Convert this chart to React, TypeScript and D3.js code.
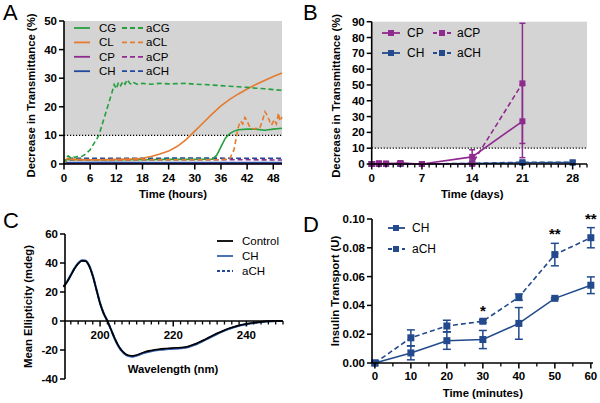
import React from "react";
import * as d3 from "d3";

// ---------- Panel A data: [time (h), decrease (%)] ----------
const aCG: [number, number][] = [[0,0],[0.5,2.5],[1,2.8],[1.5,2.2],[2,2.7],[2.5,2.3],[3,2.6],[4,2.6],[5,3.5],[6,5],[7,7.5],[8,10],[9,15],[10,20],[11,25],[11.5,27.8],[12,26.3],[12.5,28.6],[13,27.4],[13.5,28.9],[14,27.9],[14.5,29.5],[15,28.4],[15.5,27.7],[16,28.4],[17,27.8],[18,28.2],[20,27.9],[22,28.2],[24,28.0],[26,28.1],[28,28.2],[30,27.9],[32,27.8],[34,27.6],[36,27.4],[38,27.2],[40,27.0],[42,26.8],[44,26.5],[46,26.3],[48,26.0],[50,25.8]];
const CL: [number, number][] = [[0,0],[0.5,1.6],[1,2.0],[2,1.6],[4,1.5],[8,1.5],[12,1.6],[16,1.8],[18,2.0],[20,2.6],[22,3.5],[24,4.5],[26,6.2],[28,8.5],[30,11.5],[32,14.5],[34,17.5],[36,20.3],[38,22.6],[40,24.5],[42,26.2],[44,27.8],[46,29.2],[48,30.6],[50,31.8]];
const CG: [number, number][] = [[0,0],[0.5,1.5],[1,1.6],[6,1.5],[12,1.5],[18,1.5],[24,1.6],[30,1.6],[34,1.7],[35,3],[36,6],[37,9],[38,10.6],[39,11.5],[40,12],[42,12.2],[44,12.2],[46,11.8],[48,12.2],[50,12.5]];
const aCL: [number, number][] = [[0,0],[0.5,1.4],[1,1.6],[6,1.5],[12,1.4],[18,1.5],[24,1.5],[30,1.5],[36,1.5],[38,1.8],[39,5],[39.6,10],[40,13],[40.5,15],[41,14],[41.5,16.3],[42,15],[42.7,12.6],[43.5,12.3],[44.9,12.6],[45.5,15],[46.1,18.3],[46.6,17],[47.1,15.2],[47.6,13.6],[48.2,15.5],[48.7,14],[49.2,17.8],[49.5,15],[50,16.5]];
const CP: [number, number][] = [[0,0],[0.5,0.3],[10,0.2],[20,0.3],[30,0.2],[40,0.2],[50,0.2]];
const aCP: [number, number][] = [[0,0],[0.5,1.4],[10,1.4],[20,1.5],[30,1.5],[40,1.5],[50,1.4]];
const CH: [number, number][] = [[0,0],[0.5,0.5],[10,0.6],[20,0.5],[30,0.5],[40,0.5],[50,0.5]];
const aCH: [number, number][] = [[0,0],[0.5,2.0],[10,2.0],[20,2.0],[30,2.1],[40,2.0],[50,2.0]];
const aXTicks = [0, 6, 12, 18, 24, 30, 36, 42, 48];
const aYTicks = [0, 10, 20, 30, 40, 50];

// ---------- Panel B data ----------
const bDaysP = [0, 1, 2, 4, 7, 14, 21];
const bCP = [0, 0.4, 0.2, 0.6, 0, 4.5, 27];
const bCPerr = [0, 0, 0, 0.4, 0, 4.5, 23];
const bACP = [0, 0.3, 0.2, 0.4, 0, 0.2, 51];
const bACPerr = [0, 0, 0, 0, 0, 0, 38];
const bDaysH = [0, 1, 2, 4, 7, 14, 21, 28];
const bCH = [0, 0, 0, 0, 0, 0.3, 0.8, 0.9];
const bACH = [0, 0, 0, 0, 0, 0.4, 1.1, 1.0];
const bXTicks = [0, 7, 14, 21, 28];
const bYTicks = [0, 10, 20, 30, 40, 50, 60, 70, 80, 90];

// ---------- Panel C data: wavelength (nm), ellipticity (mdeg) ----------
const cNm = [190,191,192,193,194,195,196,197,198,199,200,201,202,203,204,205,206,207,208,209,210,211,212,214,216,218,220,222,224,226,228,230,232,234,236,238,240,242,244,246,248,250];
const cControl = [23.5,27,31.5,36,39.5,41.5,41.3,38,31,21.5,12,5,0,-6,-12,-17,-20.5,-22.8,-23.8,-24,-23.5,-22.5,-21.5,-20.3,-19.5,-19,-18.6,-18.3,-17.6,-15.8,-13.5,-11,-8.5,-6.3,-4.5,-3,-2,-1.2,-0.6,-0.2,0,0];
const cCH = [23.8,27.3,31.8,36.3,39.8,41.8,41.6,38.3,31.3,21.8,12.3,5.2,0.1,-6,-12.2,-17.3,-20.9,-23.2,-24.3,-24.5,-24,-23,-22,-20.8,-20,-19.5,-19.1,-18.8,-18.1,-16.3,-14,-11.4,-8.9,-6.6,-4.8,-3.2,-2.2,-1.3,-0.7,-0.3,0,0];
const cACH = [23.6,27.2,31.7,36.2,39.7,41.7,41.5,38.2,31.2,21.7,12.2,5.1,0,-6.1,-12.1,-17.2,-20.8,-23.1,-24.2,-24.4,-23.8,-22.8,-21.8,-20.6,-19.8,-19.3,-18.9,-18.6,-17.9,-16.1,-13.8,-11.2,-8.7,-6.5,-4.7,-3.1,-2.1,-1.3,-0.7,-0.3,0,0];
const cXTicks = [200, 220, 240];
const cYTicks = [-40, -20, 0, 20, 40, 60];

// ---------- Panel D data ----------
const dMin = [0, 10, 20, 30, 40, 50, 60];
const dCH = [0, 0.007, 0.0155, 0.0163, 0.0275, 0.0449, 0.054];
const dCHerr = [0, 0.0048, 0.006, 0.0063, 0.011, 0.0005, 0.0058];
const dACH = [0, 0.0175, 0.0257, 0.029, 0.0457, 0.0753, 0.087];
const dACHerr = [0, 0.0055, 0.004, 0.001, 0.0022, 0.0078, 0.007];
const dStars = [[30, "*"], [50, "**"], [60, "**"]] as [number, string][];
const dXTicks = [0, 10, 20, 30, 40, 50, 60];
const dYTicks = [0, 0.02, 0.04, 0.06, 0.08, 0.1];

const GREEN = "#26a03f";
const ORANGE = "#e47b2e";
const PURPLE = "#8f2a8f";
const BLUE = "#23479a";
const NAVY = "#234a8c";
const GRAY = "#d4d4d4";
const FONT = "Liberation Sans, Arial, sans-serif";
const DASH = "5,3";

const tickStyle = { fontFamily: FONT, fontSize: 11.5, fontWeight: 700 as const, fill: "#000" };
const labelStyle = { fontFamily: FONT, fontSize: 11.3, fontWeight: 700 as const, fill: "#000" };
const legStyle = { fontFamily: FONT, fontSize: 11.5, fill: "#000" };

function YAxis({ x, y, ticks, fmt }: { x: number; y: d3.ScaleLinear<number, number>; ticks: number[]; fmt: (v: number) => string }) {
  const [r0, r1] = y.range();
  return (
    <g>
      <line x1={x} x2={x} y1={r0} y2={r1} stroke="#000" strokeWidth={1.6} />
      {ticks.map((t) => (
        <g key={t}>
          <line x1={x - 5} x2={x} y1={y(t)} y2={y(t)} stroke="#000" strokeWidth={1.5} />
          <text x={x - 7} y={y(t)} dy="0.35em" textAnchor="end" style={tickStyle}>{fmt(t)}</text>
        </g>
      ))}
    </g>
  );
}

function XAxis({ y0, x, ticks, minor, labelY, fmt }: { y0: number; x: d3.ScaleLinear<number, number>; ticks: number[]; minor?: number[]; labelY: number; fmt?: (v: number) => string }) {
  const [r0, r1] = x.range();
  return (
    <g>
      <line x1={r0} x2={r1} y1={y0} y2={y0} stroke="#000" strokeWidth={1.6} />
      {(minor || []).map((t) => (
        <line key={"m" + t} x1={x(t)} x2={x(t)} y1={y0} y2={y0 + 3.5} stroke="#000" strokeWidth={1.3} />
      ))}
      {ticks.map((t) => (
        <g key={t}>
          <line x1={x(t)} x2={x(t)} y1={y0} y2={y0 + 5.5} stroke="#000" strokeWidth={1.5} />
          <text x={x(t)} y={labelY} dy="0.35em" textAnchor="middle" style={tickStyle}>{fmt ? fmt(t) : t}</text>
        </g>
      ))}
    </g>
  );
}

function Sq({ cx, cy, s, fill }: { cx: number; cy: number; s: number; fill: string }) {
  return <rect x={cx - s / 2} y={cy - s / 2} width={s} height={s} fill={fill} />;
}

function PanelA() {
  const x = d3.scaleLinear().domain([0, 50]).range([64, 282]);
  const y = d3.scaleLinear().domain([0, 50]).range([164, 21]);
  const line = d3.line<[number, number]>().x((d) => x(d[0])).y((d) => y(d[1]));
  const series: { d: [number, number][]; c: string; dash?: string }[] = [
    { d: CP, c: PURPLE },
    { d: CH, c: BLUE },
    { d: aCP, c: PURPLE, dash: DASH },
    { d: aCH, c: BLUE, dash: DASH },
    { d: CG, c: GREEN },
    { d: aCL, c: ORANGE, dash: DASH },
    { d: CL, c: ORANGE },
    { d: aCG, c: GREEN, dash: DASH },
  ];
  const legend = [
    ["CG", "aCG", GREEN],
    ["CL", "aCL", ORANGE],
    ["CP", "aCP", PURPLE],
    ["CH", "aCH", BLUE],
  ];
  return (
    <g>
      <rect x={x(0)} y={y(50)} width={x(50) - x(0)} height={y(10) - y(50)} fill={GRAY} />
      <line x1={x(0)} x2={x(50)} y1={y(10)} y2={y(10)} stroke="#000" strokeWidth={1.2} strokeDasharray="1.2,1.8" />
      {series.map((s, i) => (
        <path key={i} d={line(s.d) || ""} fill="none" stroke={s.c} strokeWidth={1.6} strokeDasharray={s.dash} />
      ))}
      {legend.map(([a, b, c], i) => {
        const ly = 28 + i * 14.4;
        return (
          <g key={a}>
            <line x1={74} x2={90} y1={ly} y2={ly} stroke={c} strokeWidth={1.8} />
            <text x={99} y={ly} dy="0.35em" style={legStyle}>{a}</text>
            <line x1={122} x2={143} y1={ly} y2={ly} stroke={c} strokeWidth={1.8} strokeDasharray="5,3" />
            <text x={146} y={ly} dy="0.35em" style={legStyle}>{b}</text>
          </g>
        );
      })}
      <YAxis x={64} y={y} ticks={aYTicks} fmt={(v) => String(v)} />
      <XAxis y0={164} x={x} ticks={aXTicks} labelY={178} />
      <text x={x(25)} y={194} dy="0.35em" textAnchor="middle" style={labelStyle}>Time (hours)</text>
      <text transform={`translate(31,${(y(0) + y(50)) / 2 + 3}) rotate(-90)`} textAnchor="middle" dy="0.35em" style={labelStyle}>Decrease in Transmittance (%)</text>
      <text x={3} y={20} style={{ fontFamily: FONT, fontSize: 22, fill: "#000" }}>A</text>
    </g>
  );
}

function PanelB() {
  const x = d3.scaleLinear().domain([0, 30]).range([371.7, 587]);
  const y = d3.scaleLinear().domain([0, 90]).range([164, 21.7]);
  const line = d3.line<number>();
  const pts = (days: number[], vals: number[]) => days.map((d, i) => [x(d), y(vals[i])] as [number, number]);
  const lineP = d3.line<[number, number]>();
  const minor = d3.range(1, 31).filter((d) => d % 7 !== 0);
  const eb = (days: number[], vals: number[], errs: number[], c: string) =>
    days.map((d, i) =>
      errs[i] > 0 ? (
        <g key={i}>
          <line x1={x(d)} x2={x(d)} y1={y(vals[i] - errs[i])} y2={y(vals[i] + errs[i])} stroke={c} strokeWidth={1.5} />
          <line x1={x(d) - 3} x2={x(d) + 3} y1={y(vals[i] + errs[i])} y2={y(vals[i] + errs[i])} stroke={c} strokeWidth={1.5} />
          <line x1={x(d) - 3} x2={x(d) + 3} y1={y(vals[i] - errs[i])} y2={y(vals[i] - errs[i])} stroke={c} strokeWidth={1.5} />
        </g>
      ) : null
    );
  void line;
  return (
    <g>
      <rect x={x(0)} y={y(90)} width={x(30) - x(0)} height={y(10) - y(90)} fill={GRAY} />
      <line x1={x(0)} x2={x(30)} y1={y(10)} y2={y(10)} stroke="#000" strokeWidth={1.2} strokeDasharray="1.2,1.8" />
      <path d={lineP(pts(bDaysH, bCH)) || ""} fill="none" stroke={NAVY} strokeWidth={1.6} />
      <path d={lineP(pts(bDaysH, bACH)) || ""} fill="none" stroke={NAVY} strokeWidth={1.6} strokeDasharray={DASH} />
      {bDaysH.map((d, i) => <Sq key={"h" + i} cx={x(d)} cy={y(bCH[i])} s={6} fill={NAVY} />)}
      {bDaysH.map((d, i) => <Sq key={"ah" + i} cx={x(d)} cy={y(bACH[i])} s={6} fill={NAVY} />)}
      {eb(bDaysP, bCP, bCPerr, PURPLE)}
      {eb(bDaysP, bACP, bACPerr, PURPLE)}
      <path d={lineP(pts(bDaysP, bCP)) || ""} fill="none" stroke={PURPLE} strokeWidth={1.6} />
      <path d={lineP(pts(bDaysP, bACP)) || ""} fill="none" stroke={PURPLE} strokeWidth={1.6} strokeDasharray={DASH} />
      {bDaysP.map((d, i) => <Sq key={"p" + i} cx={x(d)} cy={y(bCP[i])} s={6} fill={PURPLE} />)}
      {bDaysP.map((d, i) => <Sq key={"ap" + i} cx={x(d)} cy={y(bACP[i])} s={6} fill={PURPLE} />)}
      {[["CP", "aCP", PURPLE], ["CH", "aCH", NAVY]].map(([a, b, c], i) => {
        const ly = 33 + i * 20;
        return (
          <g key={a}>
            <line x1={382} x2={400} y1={ly} y2={ly} stroke={c} strokeWidth={1.8} />
            <Sq cx={391} cy={ly} s={6} fill={c} />
            <text x={407} y={ly} dy="0.35em" style={{ ...legStyle, fontSize: 12 }}>{a}</text>
            <line x1={433} x2={453} y1={ly} y2={ly} stroke={c} strokeWidth={1.8} strokeDasharray="4,3" />
            <Sq cx={442} cy={ly} s={6} fill={c} />
            <text x={457} y={ly} dy="0.35em" style={{ ...legStyle, fontSize: 12 }}>{b}</text>
          </g>
        );
      })}
      <YAxis x={371.7} y={y} ticks={bYTicks} fmt={(v) => String(v)} />
      <XAxis y0={164} x={x} ticks={bXTicks} minor={minor} labelY={178} />
      <text x={x(14)} y={194} dy="0.35em" textAnchor="middle" style={labelStyle}>Time (days)</text>
      <text transform={`translate(336,${(y(0) + y(90)) / 2 + 3}) rotate(-90)`} textAnchor="middle" dy="0.35em" style={labelStyle}>Decrease in Transmittance (%)</text>
      <text x={303} y={20} style={{ fontFamily: FONT, fontSize: 22, fill: "#000" }}>B</text>
    </g>
  );
}

function PanelC() {
  const x = d3.scaleLinear().domain([190, 250]).range([63.5, 283]);
  const y = d3.scaleLinear().domain([-40, 60]).range([379, 234]);
  const line = d3.line<number>().x((_, i) => x(cNm[i])).y((v) => y(v)).curve(d3.curveMonotoneX);
  const minor = d3.range(192, 251, 2).filter((d) => d % 20 !== 0);
  const x0 = 65;
  return (
    <g>
      <path d={line(cCH) || ""} fill="none" stroke="#3563b0" strokeWidth={2.2} />
      <path d={line(cACH) || ""} fill="none" stroke="#24479a" strokeWidth={1.6} strokeDasharray={DASH} />
      <path d={line(cControl) || ""} fill="none" stroke="#000" strokeWidth={1.6} />
      <line x1={x0} x2={282} y1={y(0)} y2={y(0)} stroke="#000" strokeWidth={1.6} />
      {minor.map((t) => <line key={t} x1={x(t)} x2={x(t)} y1={y(0)} y2={y(0) + 3.5} stroke="#000" strokeWidth={1.3} />)}
      {cXTicks.map((t) => (
        <g key={t}>
          <line x1={x(t)} x2={x(t)} y1={y(0)} y2={y(0) + 5.5} stroke="#000" strokeWidth={1.5} />
          <text x={x(t)} y={335} dy="0.35em" textAnchor="middle" style={tickStyle}>{t}</text>
        </g>
      ))}
      <YAxis x={x0} y={y} ticks={cYTicks} fmt={(v) => String(v)} />
      {[["Control", "#000", undefined], ["CH", "#3563b0", undefined], ["aCH", "#24479a", "3,2"]].map(([n, c, dash], i) => {
        const ly = 241 + i * 15;
        return (
          <g key={n as string}>
            <line x1={217} x2={233} y1={ly} y2={ly} stroke={c as string} strokeWidth={1.8} strokeDasharray={dash as string | undefined} />
            <text x={242} y={ly} dy="0.35em" style={legStyle}>{n}</text>
          </g>
        );
      })}
      <text x={173} y={369} dy="0.35em" textAnchor="middle" style={labelStyle}>Wavelength (nm)</text>
      <text transform={`translate(28,${(y(-40) + y(60)) / 2}) rotate(-90)`} textAnchor="middle" dy="0.35em" style={labelStyle}>Mean Ellipticity (mdeg)</text>
      <text x={3} y={228} style={{ fontFamily: FONT, fontSize: 22, fill: "#000" }}>C</text>
    </g>
  );
}

function PanelD() {
  const x = d3.scaleLinear().domain([-0.8, 60.6]).range([372, 593]);
  const y = d3.scaleLinear().domain([0, 0.1]).range([363, 219]);
  const line = d3.line<number>().x((_, i) => x(dMin[i])).y((v) => y(v));
  const minor = [5, 15, 25, 35, 45, 55];
  const eb = (vals: number[], errs: number[]) =>
    dMin.map((d, i) =>
      errs[i] > 0 ? (
        <g key={i}>
          <line x1={x(d)} x2={x(d)} y1={y(vals[i] - errs[i])} y2={y(vals[i] + errs[i])} stroke={NAVY} strokeWidth={1.5} />
          <line x1={x(d) - 4} x2={x(d) + 4} y1={y(vals[i] + errs[i])} y2={y(vals[i] + errs[i])} stroke={NAVY} strokeWidth={1.5} />
          <line x1={x(d) - 4} x2={x(d) + 4} y1={y(vals[i] - errs[i])} y2={y(vals[i] - errs[i])} stroke={NAVY} strokeWidth={1.5} />
        </g>
      ) : null
    );
  return (
    <g>
      {eb(dCH, dCHerr)}
      {eb(dACH, dACHerr)}
      <path d={line(dCH) || ""} fill="none" stroke={NAVY} strokeWidth={1.6} />
      <path d={line(dACH) || ""} fill="none" stroke={NAVY} strokeWidth={1.6} strokeDasharray={DASH} />
      {dMin.map((d, i) => <Sq key={"c" + i} cx={x(d)} cy={y(dCH[i])} s={7} fill={NAVY} />)}
      {dMin.map((d, i) => <Sq key={"a" + i} cx={x(d)} cy={y(dACH[i])} s={7} fill={NAVY} />)}
      {dStars.map(([m, s]) => {
        const i = dMin.indexOf(m);
        return (
          <text key={m} x={x(m)} y={y(dACH[i] + dACHerr[i]) - 4} textAnchor="middle" style={{ fontFamily: FONT, fontSize: 15, fontWeight: 700, fill: "#000" }}>{s}</text>
        );
      })}
      {[["CH", undefined], ["aCH", "4,3"]].map(([n, dash], i) => {
        const ly = 228 + i * 21;
        return (
          <g key={n as string}>
            <line x1={388} x2={405} y1={ly} y2={ly} stroke={NAVY} strokeWidth={1.8} strokeDasharray={dash as string | undefined} />
            <Sq cx={396} cy={ly} s={6} fill={NAVY} />
            <text x={412} y={ly} dy="0.35em" style={{ ...legStyle, fontSize: 12 }}>{n}</text>
          </g>
        );
      })}
      <YAxis x={372} y={y} ticks={dYTicks} fmt={(v) => v.toFixed(2)} />
      <XAxis y0={363} x={x} ticks={dXTicks} minor={minor} labelY={376} />
      <text x={x(30)} y={393} dy="0.35em" textAnchor="middle" style={labelStyle}>Time (minutes)</text>
      <text transform={`translate(335,${(y(0) + y(0.1)) / 2}) rotate(-90)`} textAnchor="middle" dy="0.35em" style={labelStyle}>Insulin Transport (U)</text>
      <text x={303} y={232} style={{ fontFamily: FONT, fontSize: 22, fill: "#000" }}>D</text>
    </g>
  );
}

export default function App() {
  return (
    <svg width={600} height={403} viewBox="0 0 600 403" style={{ position: "absolute", left: 0, top: 0, background: "#fff" }}>
      <rect width={600} height={403} fill="#fff" />
      <PanelA />
      <PanelB />
      <PanelC />
      <PanelD />
    </svg>
  );
}
